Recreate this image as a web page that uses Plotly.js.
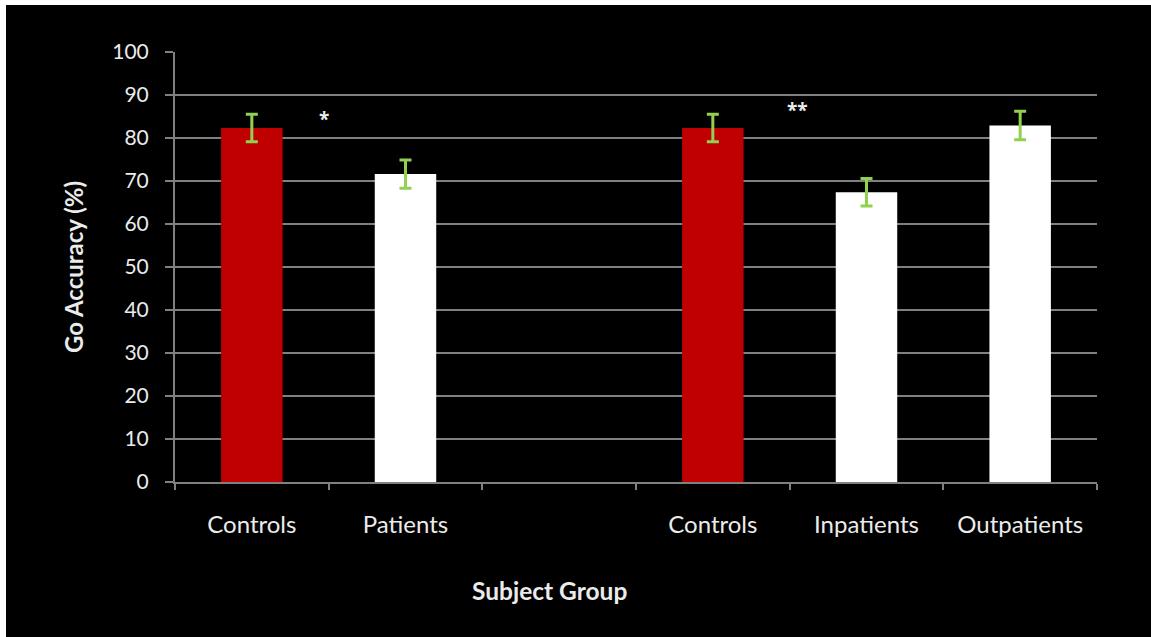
<!DOCTYPE html>
<html>
<head>
<meta charset="utf-8">
<script src="https://cdn.plot.ly/plotly-3.0.1.min.js"></script>
<style>
  html, body { margin: 0; padding: 0; background: #ffffff; width: 1151px; height: 637px; overflow: hidden; }
  #chart { position: absolute; left: 6px; top: 5px; width: 1145px; height: 632px; }
</style>
</head>
<body>
<div id="chart"></div>
<script>
// Category slots (slot 2 is an empty gap between the two comparisons)
const tickLabels = ["Controls", "Patients", "", "Controls", "Inpatients", "Outpatients"];
const slotIndex = [0, 1, 3, 4, 5];
const accuracy = [82.3, 71.6, 82.3, 67.4, 82.9];
const errors = [3.2, 3.3, 3.2, 3.2, 3.3];
const barColors = ["#c00000", "#ffffff", "#c00000", "#ffffff", "#ffffff"];
const sigLabels = ["*", "**"];
const sigX = [0.47, 3.55];
const sigY = [84.5, 86.6];

const fontFam = "Lato, Open Sans, sans-serif";
const txtColor = "#ebebeb";
const gridColor = "#808080";

const W = 1145, H = 632, ml = 169, mr = 54, mt = 47, mb = 155;

const trace = {
  type: "bar",
  x: slotIndex,
  y: accuracy,
  width: 0.4,
  marker: { color: barColors, line: { width: 0 } },
  error_y: { type: "data", array: errors, visible: true, color: "#92d050", thickness: 3, width: 6 },
  hoverinfo: "skip"
};

const annotations = sigLabels.map((t, i) => ({
  x: sigX[i], y: sigY[i], xref: "x", yref: "y", text: "<b>" + t + "</b>", showarrow: false,
  font: { family: "Open Sans, sans-serif", size: 19, color: txtColor }
}));
annotations.push({
  x: (543 - ml) / (W - ml - mr),
  y: 1 - (585 - mt) / (H - mt - mb),
  xref: "paper", yref: "paper", xanchor: "center", yanchor: "middle",
  text: "<b>Subject Group</b>", showarrow: false,
  font: { family: fontFam, size: 24.5, color: txtColor }
});

const layout = {
  width: W, height: H,
  paper_bgcolor: "#000000", plot_bgcolor: "#000000",
  margin: { l: ml, r: mr, t: mt, b: mb, pad: 0 },
  showlegend: false,
  font: { family: fontFam, color: txtColor, size: 21 },
  xaxis: {
    range: [-0.5, 5.5],
    tickmode: "array",
    tickvals: [0, 1, 2, 3, 4, 5],
    ticktext: tickLabels,
    ticks: "",
    showgrid: false,
    zeroline: false,
    showline: true, linecolor: gridColor, linewidth: 2,
    ticklabelstandoff: 20,
    tickfont: { family: fontFam, size: 24, color: txtColor },
    minor: { tickmode: "linear", tick0: -0.5, dtick: 1, ticks: "outside", ticklen: 6, tickcolor: gridColor, tickwidth: 2, showgrid: false },
    fixedrange: true
  },
  yaxis: {
    range: [0, 100],
    tickmode: "linear", tick0: 0, dtick: 10,
    ticks: "outside", ticklen: 8, tickcolor: gridColor, tickwidth: 2,
    showgrid: true, gridcolor: gridColor, gridwidth: 2,
    zeroline: false,
    showline: true, linecolor: gridColor, linewidth: 2,
    ticklabelstandoff: 12,
    tickfont: { family: fontFam, size: 21, color: txtColor },
    title: { text: "<b>Go Accuracy (%)</b>", font: { family: fontFam, size: 24, color: txtColor }, standoff: 22 },
    fixedrange: true
  },
  annotations: annotations
};

Plotly.newPlot("chart", [trace], layout, { staticPlot: true, displayModeBar: false });
</script>
</body>
</html>
